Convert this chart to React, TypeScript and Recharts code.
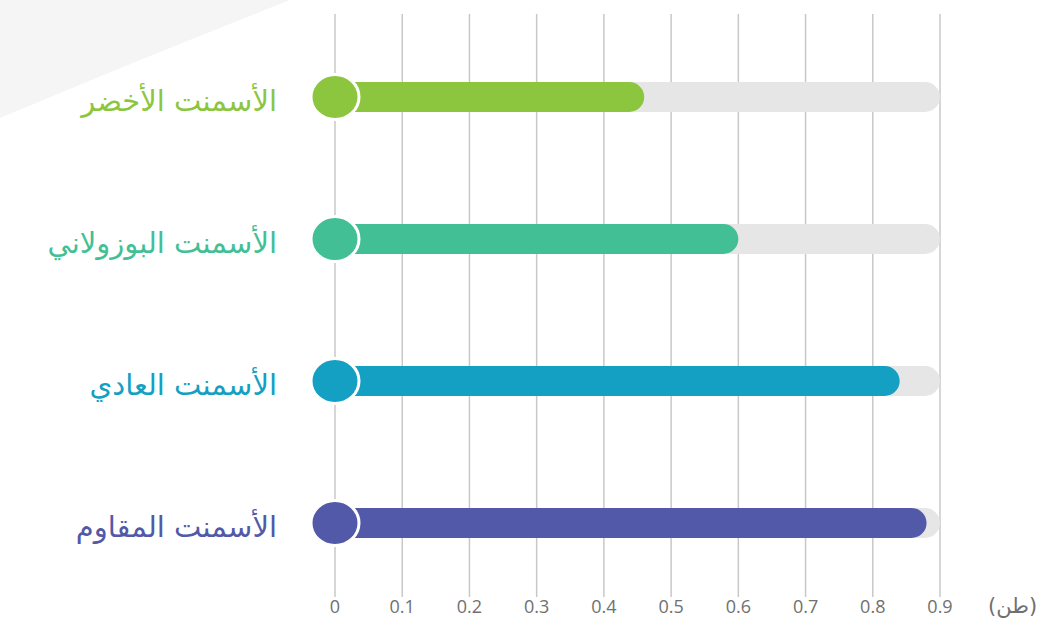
import React from "react";
import { BarChart, Bar, XAxis, YAxis, CartesianGrid, Cell } from "recharts";

const CATEGORIES = ["الأسمنت الأخضر", "الأسمنت البوزولاني", "الأسمنت العادي", "الأسمنت المقاوم"];
const VALUES = [0.46, 0.6, 0.84, 0.88];
const X_TICKS = [0, 0.1, 0.2, 0.3, 0.4, 0.5, 0.6, 0.7, 0.8, 0.9];
const UNIT_LABEL = "(طن)";

const COLORS = ["#8cc63f", "#43bf95", "#14a0c2", "#5159a8"];

const data = CATEGORIES.map((name, i) => ({ name, value: VALUES[i] }));

function PillBar(props: any) {
  const { x, y, width, height, index } = props;
  const r = height / 2;
  const color = COLORS[index % COLORS.length];
  const right = x + width;
  const d = `M${x},${y} L${right - r},${y} A${r},${r} 0 0 1 ${right - r},${y + height} L${x},${y + height} Z`;
  return (
    <g>
      <path d={d} fill={color} />
      <ellipse cx={x} cy={y + r} rx={24} ry={22.5} fill={color} stroke="#ffffff" strokeWidth={3} />
    </g>
  );
}

function CategoryTick(props: any) {
  const { x, y, payload, index } = props;
  return (
    <text
      x={x - 58}
      y={y + 14}
      textAnchor="end"
      fill={COLORS[index % COLORS.length]}
      fontSize={29}
      fontFamily="DejaVu Sans, sans-serif"
    >
      {payload.value}
    </text>
  );
}

function UnitLabel(props: any) {
  const { viewBox } = props;
  return (
    <text
      x={viewBox.x + viewBox.width + 48}
      y={viewBox.y + 16}
      textAnchor="start"
      fill="#707070"
      fontSize={21}
      fontFamily="DejaVu Sans, sans-serif"
    >
      {UNIT_LABEL}
    </text>
  );
}

export default function App() {
  return (
    <div style={{ position: "fixed", left: 0, top: 0, width: 1063, height: 621, background: "#ffffff" }}>
      <svg width={1063} height={621} style={{ position: "absolute", left: 0, top: 0 }}>
        <path d="M0,0 L290,0 Q150,55 0,118 Z" fill="#f5f5f5" />
      </svg>
      <div style={{ position: "absolute", left: 0, top: 0 }}>
        <BarChart
          width={1063}
          height={621}
          data={data}
          layout="vertical"
          margin={{ top: 14, right: 123, bottom: 0, left: 0 }}
        >
          <CartesianGrid horizontal={false} stroke="#c8c8c8" strokeWidth={1.5} />
          <XAxis
            type="number"
            domain={[0, 0.9]}
            ticks={X_TICKS}
            axisLine={false}
            tickLine={false}
            tickSize={0}
            tickMargin={3}
            height={24}
            interval={0}
            tick={{ fill: "#707070", fontSize: 18, fontFamily: "Open Sans, sans-serif" }}
            label={<UnitLabel />}
          />
          <YAxis
            type="category"
            dataKey="name"
            width={335}
            axisLine={false}
            tickLine={false}
            tickSize={0}
            tickMargin={0}
            padding={{ top: 12, bottom: 3 }}
            tick={<CategoryTick />}
          />
          <Bar
            dataKey="value"
            barSize={30}
            isAnimationActive={false}
            background={{ fill: "#e6e6e6", radius: 15 } as any}
            shape={<PillBar />}
          >
            {data.map((_, i) => (
              <Cell key={`cell-${i}`} fill={COLORS[i]} />
            ))}
          </Bar>
        </BarChart>
      </div>
    </div>
  );
}
